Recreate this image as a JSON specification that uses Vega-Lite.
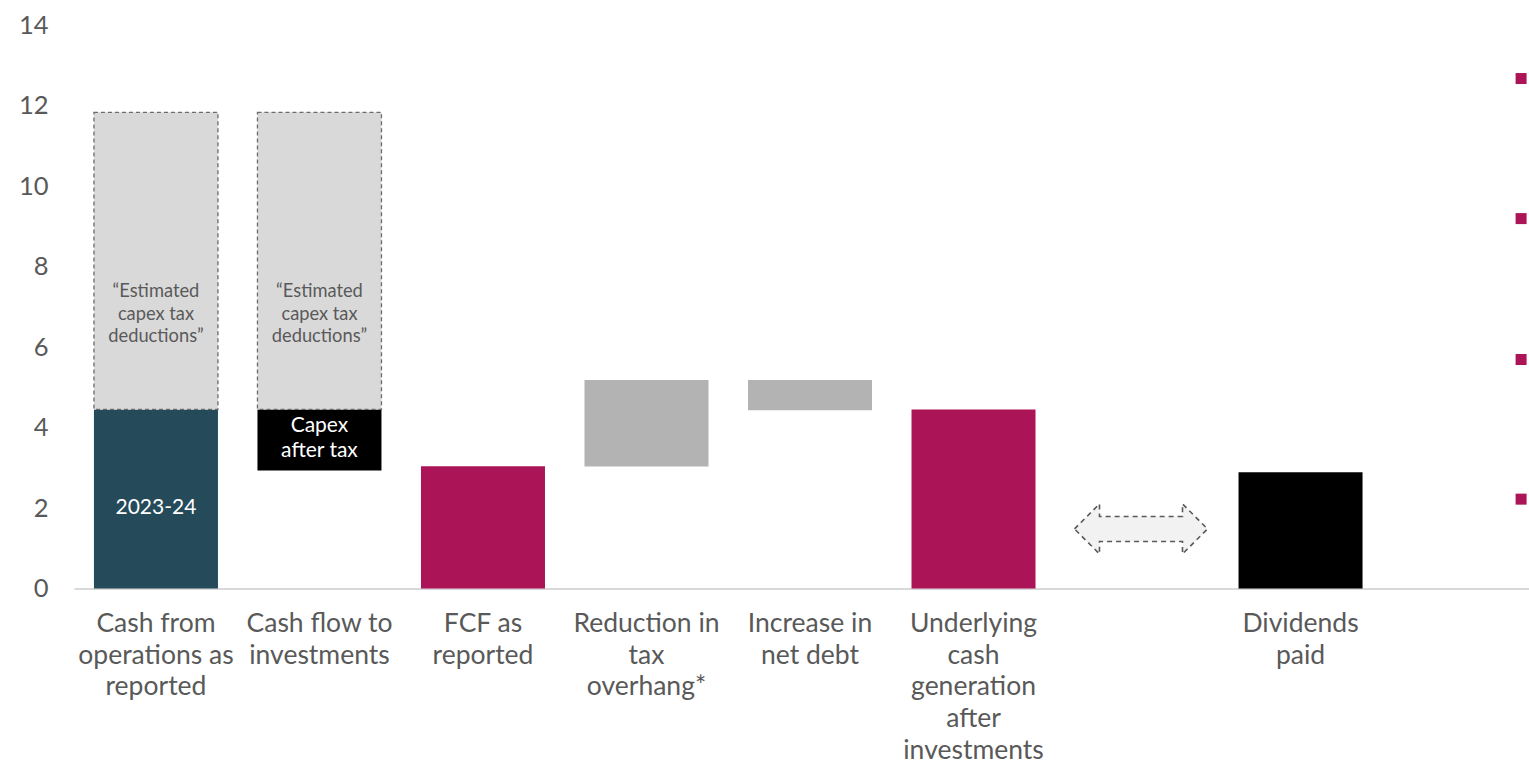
{
  "$schema": "https://vega.github.io/schema/vega-lite/v6.json",
  "autosize": "none",
  "width": 1472,
  "height": 563.5,
  "padding": {"left": 74, "top": 25, "right": 0, "bottom": 173.5},
  "background": "white",
  "config": {
    "font": "Lato",
    "view": {"stroke": null}
  },
  "datasets": {
    "bars": [
      {"cat": "Cash from|operations as|reported", "y0": 0, "y1": 4.45, "kind": "teal"},
      {"cat": "Cash flow to|investments", "y0": 2.93, "y1": 4.45, "kind": "black"},
      {"cat": "FCF as|reported", "y0": 0, "y1": 3.04, "kind": "pink"},
      {"cat": "Reduction in|tax|overhang*", "y0": 3.03, "y1": 5.18, "kind": "gray"},
      {"cat": "Increase in|net debt", "y0": 4.43, "y1": 5.18, "kind": "gray"},
      {"cat": "Underlying|cash|generation|after|investments", "y0": 0, "y1": 4.45, "kind": "pink"},
      {"cat": "_arrow", "y0": 0, "y1": 0, "kind": "none"},
      {"cat": "Dividends|paid", "y0": 0, "y1": 2.89, "kind": "black"},
      {"cat": "_sq", "y0": 0, "y1": 0, "kind": "none"}
    ],
    "dashed": [
      {"cat": "Cash from|operations as|reported", "y0": 4.45, "y1": 11.83},
      {"cat": "Cash flow to|investments", "y0": 4.45, "y1": 11.83}
    ],
    "labels": [
      {"cat": "Cash from|operations as|reported", "y": 2.0, "text": "2023-24", "kind": "white"},
      {"cat": "Cash flow to|investments", "y": 4.04, "text": "Capex|after tax", "kind": "white"},
      {"cat": "Cash from|operations as|reported", "y": 7.36, "text": "“Estimated|capex tax|deductions”", "kind": "note"},
      {"cat": "Cash flow to|investments", "y": 7.36, "text": "“Estimated|capex tax|deductions”", "kind": "note"}
    ],
    "arrow": [
      {"cat": "_arrow", "y": 1.48}
    ],
    "squares": [
      {"cat": "_sq", "y": 12.67},
      {"cat": "_sq", "y": 9.19},
      {"cat": "_sq", "y": 5.69},
      {"cat": "_sq", "y": 2.22}
    ]
  },
  "encoding": {
    "x": {
      "field": "cat",
      "type": "nominal",
      "sort": null,
      "scale": {
        "domain": [
          "Cash from|operations as|reported",
          "Cash flow to|investments",
          "FCF as|reported",
          "Reduction in|tax|overhang*",
          "Increase in|net debt",
          "Underlying|cash|generation|after|investments",
          "_arrow",
          "Dividends|paid",
          "_sq"
        ],
        "paddingInner": 0.2416,
        "paddingOuter": 0.122
      },
      "axis": {
        "title": null,
        "labelAngle": 0,
        "ticks": false,
        "domainColor": "#d9d9d9",
        "domainWidth": 2,
        "labelFontSize": 26.5,
        "labelLineHeight": 31.7,
        "labelColor": "#595959",
        "labelPadding": 22,
        "labelBaseline": "top",
        "labelLimit": 0,
        "labelOverlap": false,
        "labelExpr": "indexof(datum.label, '_') == 0 ? '' : split(datum.label, '|')"
      }
    }
  },
  "layer": [
    {
      "data": {"name": "bars"},
      "transform": [{"filter": "datum.kind != 'none'"}],
      "mark": {"type": "bar"},
      "encoding": {
        "y": {
          "field": "y0",
          "type": "quantitative",
          "scale": {"domain": [0, 14], "nice": false},
          "axis": {
            "title": null,
            "values": [0, 2, 4, 6, 8, 10, 12, 14],
            "grid": false,
            "ticks": false,
            "domain": false,
            "labelFontSize": 25.5,
            "labelColor": "#595959",
            "labelPadding": 26
          }
        },
        "y2": {"field": "y1"},
        "color": {
          "field": "kind",
          "type": "nominal",
          "scale": {
            "domain": ["teal", "black", "pink", "gray"],
            "range": ["#254a5a", "#000000", "#ab1457", "#b3b3b3"]
          },
          "legend": null
        }
      }
    },
    {
      "data": {"name": "dashed"},
      "mark": {
        "type": "bar",
        "fill": "#d9d9d9",
        "stroke": "#6b6b6b",
        "strokeWidth": 1.3,
        "strokeDash": [4, 3]
      },
      "encoding": {
        "y": {"field": "y0", "type": "quantitative"},
        "y2": {"field": "y1"}
      }
    },
    {
      "data": {"name": "arrow"},
      "mark": {
        "type": "point",
        "shape": "M -1 0 L -0.624 -0.376 L -0.624 -0.188 L 0.624 -0.188 L 0.624 -0.376 L 1 0 L 0.624 0.376 L 0.624 0.188 L -0.624 0.188 L -0.624 0.376 Z",
        "size": 17689,
        "filled": true,
        "fill": "#f2f2f2",
        "fillOpacity": 1,
        "stroke": "#595959",
        "strokeWidth": 1.6,
        "strokeDash": [5, 4],
        "strokeOpacity": 1,
        "opacity": 1
      },
      "encoding": {
        "x": {"field": "cat", "type": "nominal", "sort": null, "bandPosition": 0.532},
        "y": {"field": "y", "type": "quantitative"}
      }
    },
    {
      "data": {"name": "squares"},
      "mark": {
        "type": "point",
        "shape": "square",
        "size": 121,
        "filled": true,
        "color": "#ab1457",
        "opacity": 1
      },
      "encoding": {
        "x": {"field": "cat", "type": "nominal", "sort": null, "bandPosition": 0.96},
        "y": {"field": "y", "type": "quantitative"}
      }
    },
    {
      "data": {"name": "labels"},
      "transform": [{"filter": "datum.kind == 'white'"}],
      "mark": {
        "type": "text",
        "color": "white",
        "fontSize": 21,
        "lineBreak": "|",
        "lineHeight": 25,
        "align": "center",
        "baseline": "middle"
      },
      "encoding": {
        "y": {"field": "y", "type": "quantitative"},
        "text": {"field": "text"}
      }
    },
    {
      "data": {"name": "labels"},
      "transform": [{"filter": "datum.kind == 'note'"}],
      "mark": {
        "type": "text",
        "color": "#595959",
        "fontSize": 18.3,
        "lineBreak": "|",
        "lineHeight": 22.3,
        "align": "center",
        "baseline": "middle"
      },
      "encoding": {
        "y": {"field": "y", "type": "quantitative"},
        "text": {"field": "text"}
      }
    }
  ]
}
